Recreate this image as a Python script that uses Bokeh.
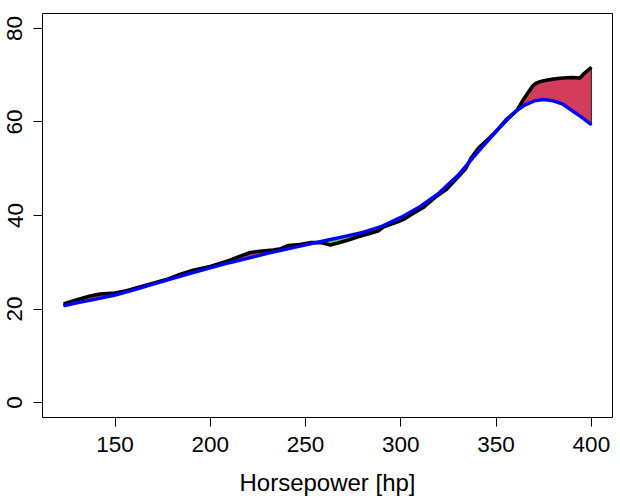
import numpy as np
from bokeh.plotting import figure
from bokeh.models import FixedTicker, Range1d
from bokeh.embed import file_html
from bokeh.resources import INLINE

# observed (black) curve
hp_obs = [123, 130, 137, 142, 150, 156, 162, 170, 177, 184, 191, 200, 210, 215,
          221, 227, 233, 237, 241, 247, 253, 258, 263, 267, 272, 278, 284, 288,
          291, 298, 302, 307, 312, 318, 324, 329, 334, 337, 341, 345, 349, 356,
          361, 364, 367, 369, 371, 373, 375, 380, 385, 390, 394, 396, 400]
mpg_obs = [21.1, 22.0, 22.8, 23.2, 23.4, 23.9, 24.6, 25.5, 26.3, 27.4, 28.3, 29.1,
           30.4, 31.2, 32.1, 32.4, 32.6, 32.9, 33.6, 33.8, 34.2, 34.2, 33.7, 34.1,
           34.7, 35.5, 36.2, 36.7, 37.6, 38.6, 39.3, 40.6, 41.8, 43.9, 45.6, 47.8,
           50.0, 52.4, 54.5, 56.0, 57.6, 60.6, 62.5, 64.6, 66.4, 67.6, 68.3, 68.6,
           68.8, 69.2, 69.4, 69.5, 69.4, 70.3, 71.7]

# fitted (blue) curve
hp_fit = [123, 130, 140, 150, 160, 170, 180, 190, 200, 210, 220, 230, 240, 250,
          260, 270, 280, 290, 300, 310, 320, 330, 340, 350, 355, 360, 365, 370,
          375, 380, 385, 390, 395, 400]
mpg_fit = [20.7, 21.3, 22.1, 23.0, 24.1, 25.3, 26.5, 27.7, 28.8, 29.9, 30.9, 31.9,
           32.8, 33.7, 34.6, 35.5, 36.4, 37.7, 39.6, 41.9, 44.8, 48.6, 53.4, 58.0,
           60.4, 62.2, 63.6, 64.5, 64.8, 64.5, 63.8, 62.4, 61.0, 59.4]

x_ticks = [150, 200, 250, 300, 350, 400]
y_ticks = [0, 20, 40, 60, 80]
y_lim = [0, 80]
x_title = "Horsepower [hp]"

FONT = "Liberation Sans"

# R-style 4% axis extension
x0, x1 = min(hp_obs), max(hp_obs)
xpad = 0.04 * (x1 - x0)
ypad = 0.04 * (y_lim[1] - y_lim[0])

p = figure(frame_width=570, frame_height=404,
           x_range=Range1d(x0 - xpad, x1 + xpad),
           y_range=Range1d(y_lim[0] - ypad, y_lim[1] + ypad),
           output_backend="svg", toolbar_location=None,
           min_border_left=42, min_border_right=8, min_border_top=13,
           min_border_bottom=10)

p.grid.visible = False
p.outline_line_color = "black"
p.outline_line_width = 1
p.background_fill_color = "white"
p.border_fill_color = "white"

for ax in (p.xaxis[0], p.yaxis[0]):
    ax.axis_line_color = None
    ax.major_tick_line_color = "black"
    ax.major_tick_line_width = 1
    ax.major_tick_out = 9
    ax.major_tick_in = 0
    ax.minor_tick_line_color = None
    ax.major_label_text_font = FONT
    ax.major_label_text_font_size = "22.5px"
    ax.major_label_text_color = "black"

p.xaxis.ticker = FixedTicker(ticks=x_ticks)
p.yaxis.ticker = FixedTicker(ticks=y_ticks)
p.xaxis.major_label_standoff = 10
p.yaxis.major_label_standoff = 11
p.yaxis.major_label_orientation = "vertical"
p.xaxis.axis_label = x_title
p.xaxis.axis_label_text_font = FONT
p.xaxis.axis_label_text_font_size = "24px"
p.xaxis.axis_label_text_font_style = "normal"
p.xaxis.axis_label_text_color = "black"
p.xaxis.axis_label_standoff = 14

# fill between observed and fitted curves
grid = np.union1d(hp_obs, hp_fit)
ob = np.interp(grid, hp_obs, mpg_obs)
ft = np.interp(grid, hp_fit, mpg_fit)
xs = np.concatenate([grid, grid[::-1]])
p.patch(xs, np.concatenate([np.maximum(ob, ft), ft[::-1]]),
        fill_color="#D33C5A", line_color="#222222", line_width=1)
p.patch(xs, np.concatenate([np.minimum(ob, ft), ft[::-1]]),
        fill_color="#61D04F", line_color="#222222", line_width=1)

p.line(hp_obs, mpg_obs, line_color="black", line_width=3.6, line_join="round")
p.line(hp_fit, mpg_fit, line_color="#0000FF", line_width=3.4, line_join="round")

open("out.html", "w").write(file_html(p, INLINE))
